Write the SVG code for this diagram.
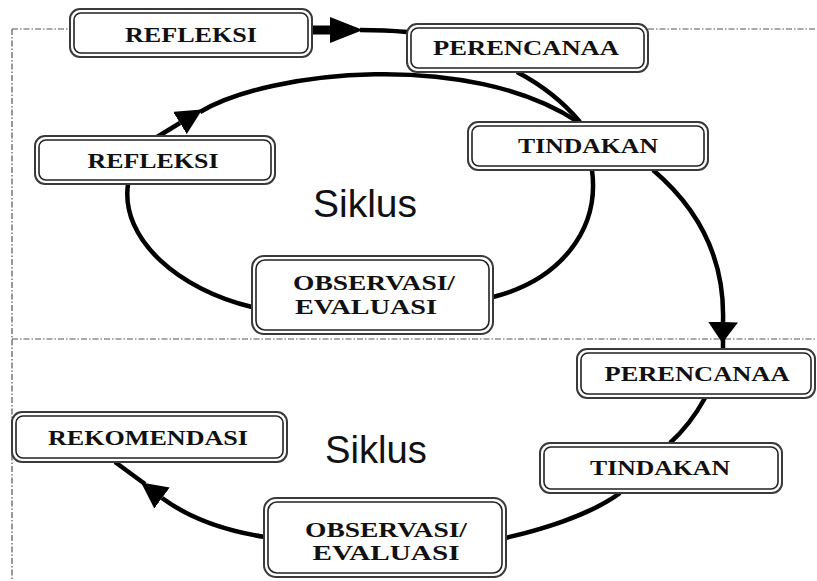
<svg xmlns="http://www.w3.org/2000/svg" width="817" height="581" viewBox="0 0 817 581">
<style>
.bg{fill:#fff}
.o{fill:#fff;stroke:#3a3a3a;stroke-width:2}
.i{fill:#fff;stroke:#222;stroke-width:1.6}
.t{font-family:"Liberation Serif","Times New Roman",serif;font-weight:bold;font-size:21px;fill:#111;text-anchor:middle}
.s{font-family:"Liberation Sans",Arial,sans-serif;font-size:38px;fill:#111;text-anchor:middle}
.c{fill:none;stroke:#000;stroke-width:4.5}
.d{fill:none;stroke:#555;stroke-width:1.2;stroke-dasharray:6 2 1.5 2}
</style>
<defs>
<marker id="ah" viewBox="0 0 10 10" refX="0" refY="5" markerUnits="userSpaceOnUse" markerWidth="26" markerHeight="26" preserveAspectRatio="none" orient="auto">
<path d="M0,0 L10,5 L0,10 z" fill="#000"/>
</marker>
<marker id="ahb" viewBox="0 0 10 10" refX="0" refY="5" markerUnits="userSpaceOnUse" markerWidth="33" markerHeight="26" preserveAspectRatio="none" orient="auto">
<path d="M0,0 L10,5 L0,10 z" fill="#000"/>
</marker>
<marker id="ahw" viewBox="0 0 10 10" refX="0" refY="5" markerUnits="userSpaceOnUse" markerWidth="21" markerHeight="30" preserveAspectRatio="none" orient="auto">
<path d="M0,0 L10,5 L0,10 z" fill="#000"/>
</marker>
</defs>
<rect class="bg" x="0" y="0" width="817" height="581"/>
<g id="guides">
<path class="d" d="M12,29 H70 M648,29 H817 M12,29 V581 M12,339 H817"/>
</g>
<g id="connectors">
<path d="M312,30 L330,30" fill="none" stroke="#000" stroke-width="9" marker-end="url(#ahb)"/>
<path class="c" d="M360,30 Q385,30 407,32"/>
<path class="c" d="M157,137 L180,123" marker-end="url(#ah)"/>
<path class="c" d="M200,112 C270,70 470,50 578,122"/>
<path class="c" d="M517,72 Q555,92 580,122"/>
<path class="c" d="M592,170 C600,230 560,280 493,297"/>
<path class="c" d="M252,307 C180,290 120,240 128,184"/>
<path class="c" d="M653,170 C700,210 725,260 723,322" marker-end="url(#ahw)"/>
<path class="c" d="M723,338 L723,349"/>
<path class="c" d="M705,398 Q690,425 670,443"/>
<path class="c" d="M620,493 C590,515 540,530 505,538"/>
<path class="c" d="M265,537 C220,530 185,515 162,498" marker-end="url(#ah)"/>
<path class="c" d="M145,484 L115,462"/>
</g>
<g id="refleksi-1">
<rect class="o" x="70" y="9" width="242" height="48" rx="10"/>
<rect class="i" x="74" y="13" width="234" height="40" rx="7"/>
<text class="t" x="191" y="42" textLength="132" lengthAdjust="spacingAndGlyphs">REFLEKSI</text>
</g>
<g id="perencanaan-1">
<rect class="o" x="407" y="24" width="241" height="48" rx="10"/>
<rect class="i" x="411" y="28" width="233" height="40" rx="7"/>
<text class="t" x="526" y="55" textLength="186" lengthAdjust="spacingAndGlyphs">PERENCANAA</text>
</g>
<g id="tindakan-1">
<rect class="o" x="468" y="122" width="240" height="48" rx="10"/>
<rect class="i" x="472" y="126" width="232" height="40" rx="7"/>
<text class="t" x="588" y="153" textLength="140" lengthAdjust="spacingAndGlyphs">TINDAKAN</text>
</g>
<g id="refleksi-2">
<rect class="o" x="35" y="136" width="240" height="48" rx="10"/>
<rect class="i" x="39" y="140" width="232" height="40" rx="7"/>
<text class="t" x="153" y="168" textLength="131" lengthAdjust="spacingAndGlyphs">REFLEKSI</text>
</g>
<g id="observasi-1">
<rect class="o" x="252" y="256" width="241" height="78" rx="12"/>
<rect class="i" x="256" y="260" width="233" height="70" rx="9"/>
<text class="t" x="374" y="290" textLength="162" lengthAdjust="spacingAndGlyphs">OBSERVASI/</text>
<text class="t" x="366" y="314" textLength="142" lengthAdjust="spacingAndGlyphs">EVALUASI</text>
</g>
<text class="s" x="365" y="217" textLength="104" lengthAdjust="spacingAndGlyphs">Siklus</text>
<g id="perencanaan-2">
<rect class="o" x="577" y="349" width="238" height="49" rx="10"/>
<rect class="i" x="581" y="353" width="230" height="41" rx="7"/>
<text class="t" x="697" y="381" textLength="185" lengthAdjust="spacingAndGlyphs">PERENCANAA</text>
</g>
<g id="tindakan-2">
<rect class="o" x="540" y="443" width="242" height="50" rx="10"/>
<rect class="i" x="544" y="447" width="234" height="42" rx="7"/>
<text class="t" x="660" y="475" textLength="140" lengthAdjust="spacingAndGlyphs">TINDAKAN</text>
</g>
<g id="observasi-2">
<rect class="o" x="264" y="498" width="242" height="79" rx="12"/>
<rect class="i" x="268" y="502" width="234" height="71" rx="9"/>
<text class="t" x="386" y="537" textLength="162" lengthAdjust="spacingAndGlyphs">OBSERVASI/</text>
<text class="t" x="386" y="560" textLength="147" lengthAdjust="spacingAndGlyphs">EVALUASI</text>
</g>
<g id="rekomendasi">
<rect class="o" x="12" y="412" width="275" height="50" rx="10"/>
<rect class="i" x="16" y="416" width="267" height="42" rx="7"/>
<text class="t" x="148" y="445" textLength="200" lengthAdjust="spacingAndGlyphs">REKOMENDASI</text>
</g>
<text class="s" x="376" y="463" textLength="102" lengthAdjust="spacingAndGlyphs">Siklus</text>
</svg>
